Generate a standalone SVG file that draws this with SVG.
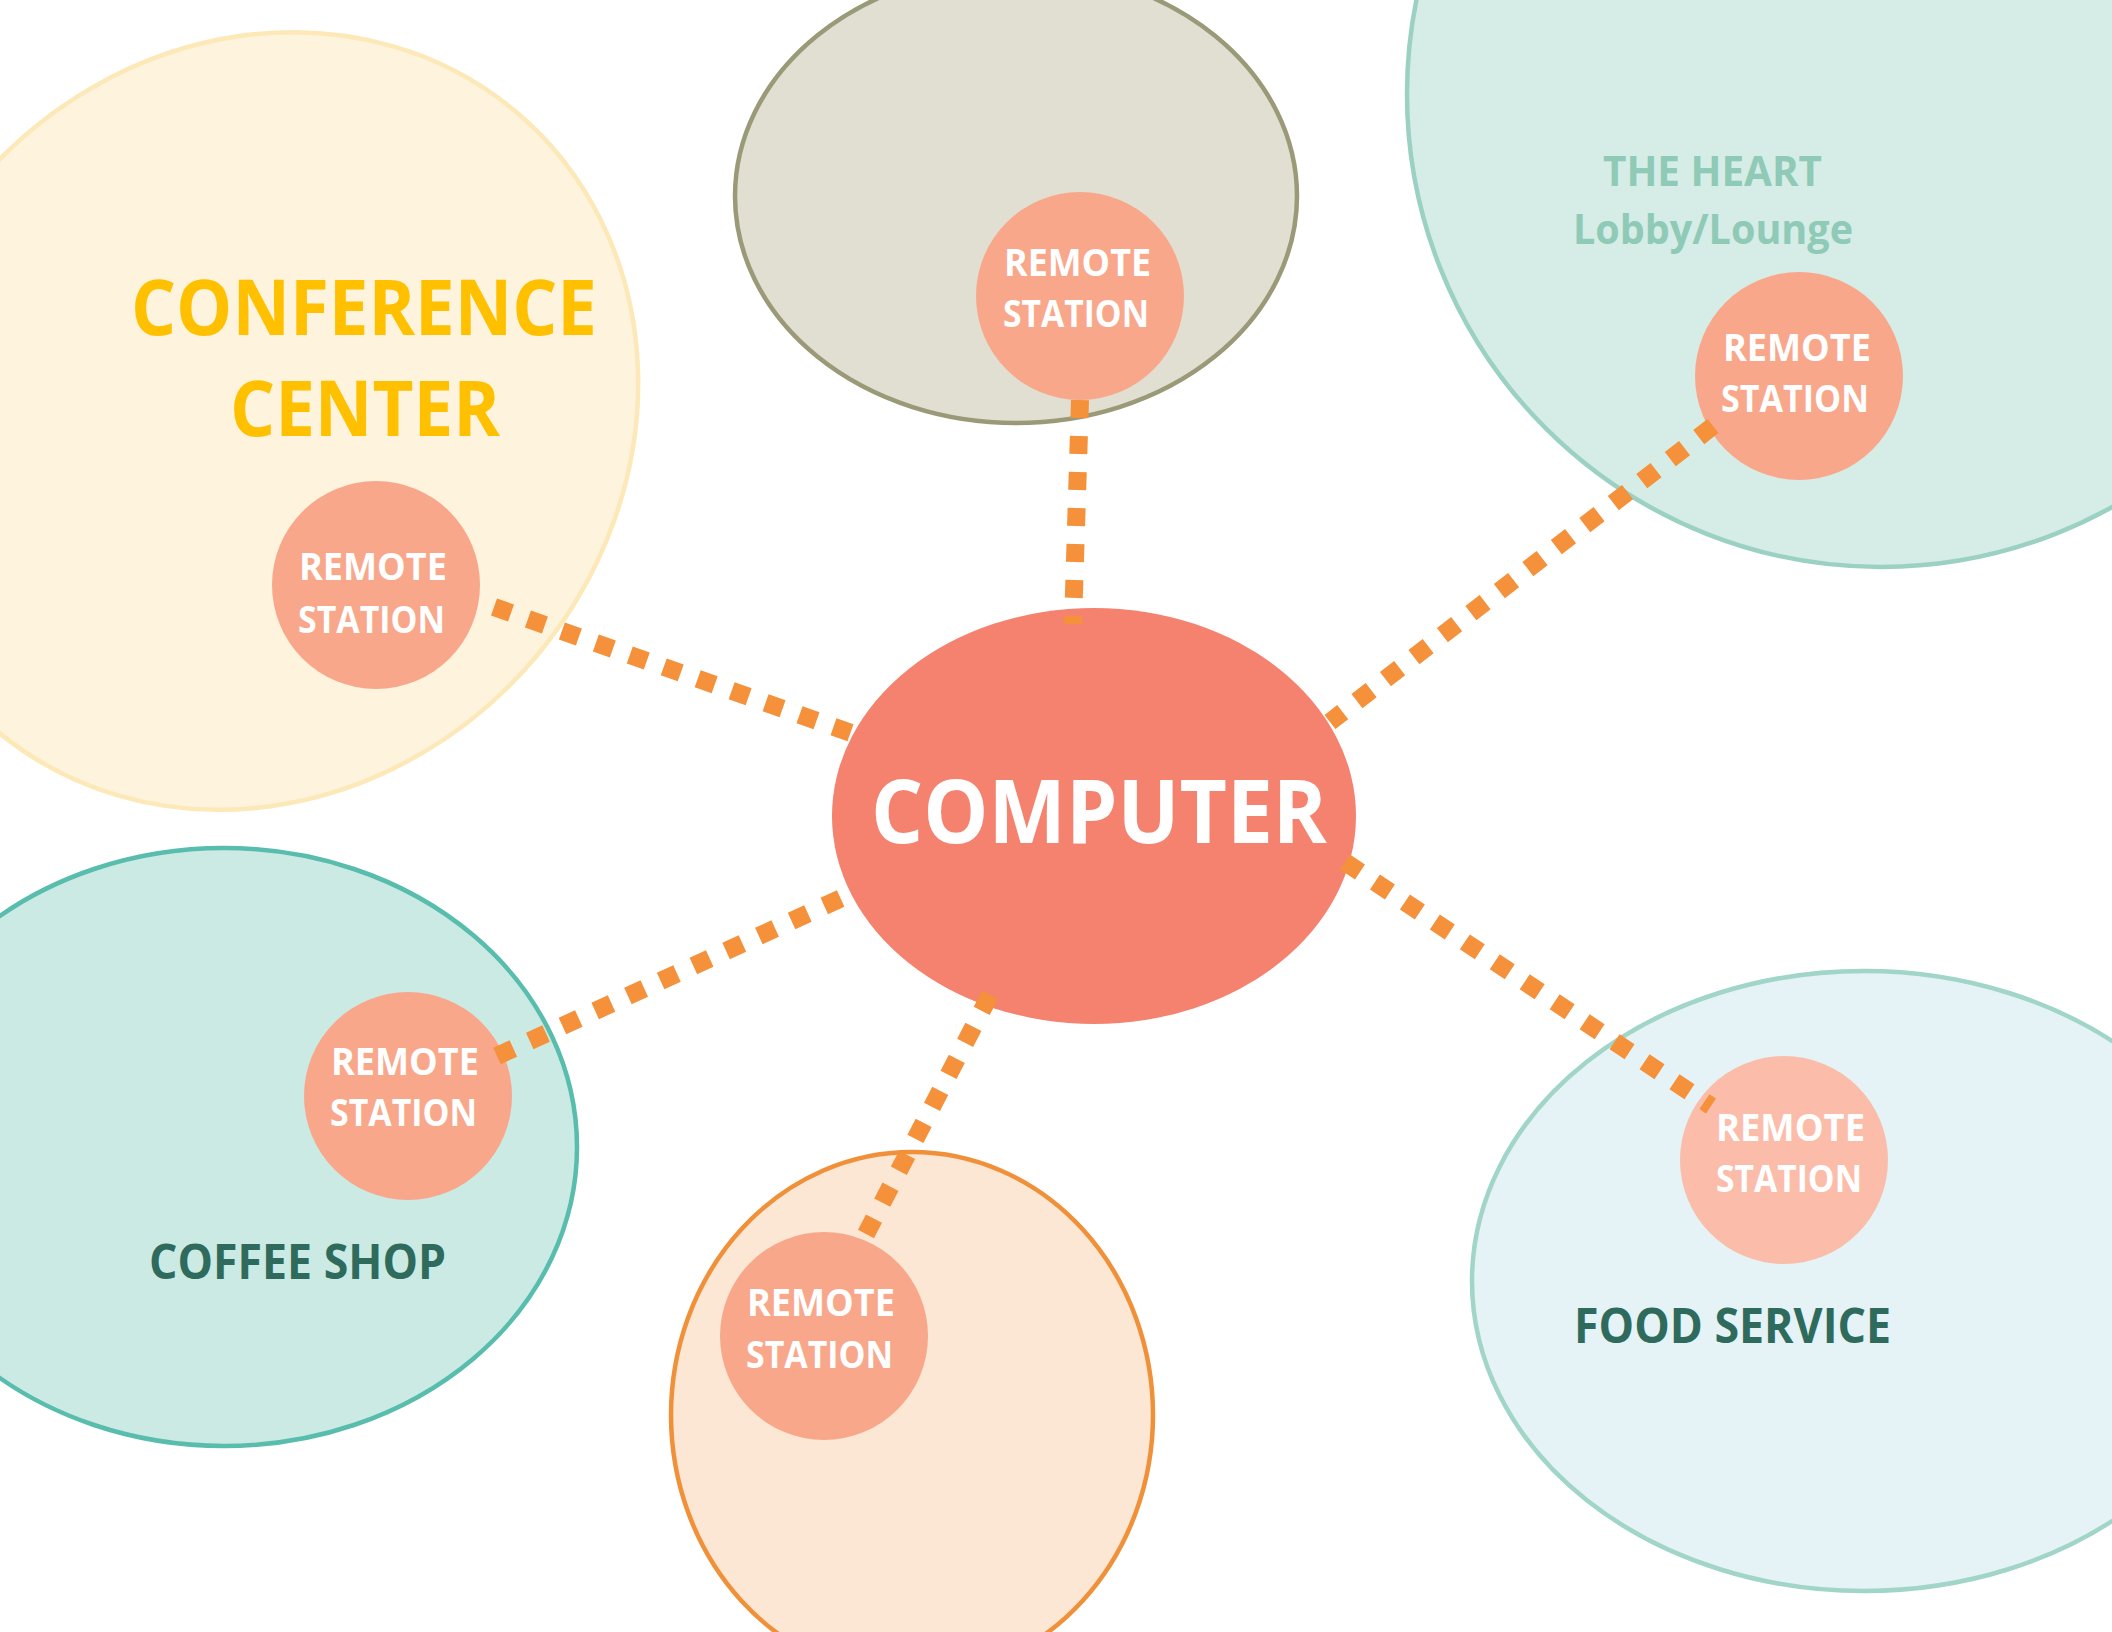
<svg xmlns="http://www.w3.org/2000/svg" width="2112" height="1632" viewBox="0 0 2112 1632">
<style>
.st{fill:#f9a78b}
.st2{fill:#fbbca9}
.stt{font-family:"Open Sans","Liberation Sans",sans-serif;font-weight:bold;font-size:38px;fill:#ffffff}
.lbl{font-family:"Open Sans","Liberation Sans",sans-serif;font-weight:bold}
.conn{stroke:#f4913a;stroke-width:18;stroke-dasharray:18 18;fill:none}
</style>
<rect width="2112" height="1632" fill="#ffffff"/>
<g id="conference-center">
<ellipse cx="256" cy="421" rx="404" ry="366" transform="rotate(-50 256 421)" fill="#fef3dc" stroke="#fde8b8" stroke-width="4.5"/>
<text class="lbl" x="131" y="335" font-size="77" fill="#ffc000" textLength="466" lengthAdjust="spacingAndGlyphs">CONFERENCE</text>
<text class="lbl" x="230" y="436" font-size="77" fill="#ffc000" textLength="270" lengthAdjust="spacingAndGlyphs">CENTER</text>
</g>
<g id="top-area">
<ellipse cx="1016" cy="196" rx="281" ry="227" fill="#e0dfd2" stroke="#9b9a78" stroke-width="4.5"/>
</g>
<g id="the-heart">
<ellipse cx="1881" cy="94" rx="474" ry="473" fill="#d6ece6" stroke="#9bd1c3" stroke-width="4.5"/>
<text class="lbl" x="1603" y="186" font-size="42" fill="#8ecab6" textLength="219" lengthAdjust="spacingAndGlyphs">THE HEART</text>
<text class="lbl" x="1573" y="244" font-size="42" fill="#8ecab6" textLength="280" lengthAdjust="spacingAndGlyphs">Lobby/Lounge</text>
</g>
<g id="coffee-shop">
<ellipse cx="224" cy="1147" rx="353" ry="299" fill="#cbeae4" stroke="#58bdac" stroke-width="4.5"/>
<text class="lbl" x="149" y="1279" font-size="49" fill="#2e6b5d" textLength="297" lengthAdjust="spacingAndGlyphs">COFFEE SHOP</text>
</g>
<g id="bottom-area">
<ellipse cx="912" cy="1415" rx="241" ry="263" fill="#fce6d4" stroke="#f0913a" stroke-width="4.5"/>
</g>
<g id="food-service">
<ellipse cx="1864" cy="1281" rx="392" ry="310" fill="#e5f2f6" stroke="#a0d5c8" stroke-width="4.5"/>
<text class="lbl" x="1574" y="1343" font-size="48" fill="#2e6b5d" textLength="317" lengthAdjust="spacingAndGlyphs">FOOD SERVICE</text>
</g>
<g id="station-conference">
<circle class="st" cx="376" cy="585" r="104"/>
<text class="stt" x="299" y="580" textLength="148" lengthAdjust="spacingAndGlyphs">REMOTE</text>
<text class="stt" x="298" y="633" textLength="147" lengthAdjust="spacingAndGlyphs">STATION</text>
</g>
<g id="station-top">
<circle class="st" cx="1080" cy="296" r="104"/>
<text class="stt" x="1004" y="276" textLength="147" lengthAdjust="spacingAndGlyphs">REMOTE</text>
<text class="stt" x="1003" y="327" textLength="146" lengthAdjust="spacingAndGlyphs">STATION</text>
</g>
<g id="station-heart">
<circle class="st" cx="1799" cy="376" r="104"/>
<text class="stt" x="1723" y="361" textLength="148" lengthAdjust="spacingAndGlyphs">REMOTE</text>
<text class="stt" x="1721" y="412" textLength="148" lengthAdjust="spacingAndGlyphs">STATION</text>
</g>
<g id="station-coffee">
<circle class="st" cx="408" cy="1096" r="104"/>
<text class="stt" x="331" y="1075" textLength="148" lengthAdjust="spacingAndGlyphs">REMOTE</text>
<text class="stt" x="330" y="1126" textLength="147" lengthAdjust="spacingAndGlyphs">STATION</text>
</g>
<g id="station-bottom">
<circle class="st" cx="824" cy="1336" r="104"/>
<text class="stt" x="747" y="1316" textLength="148" lengthAdjust="spacingAndGlyphs">REMOTE</text>
<text class="stt" x="746" y="1368" textLength="147" lengthAdjust="spacingAndGlyphs">STATION</text>
</g>
<g id="station-food">
<circle class="st2" cx="1784" cy="1160" r="104"/>
<text class="stt" x="1716" y="1141" textLength="149" lengthAdjust="spacingAndGlyphs">REMOTE</text>
<text class="stt" x="1716" y="1192" textLength="146" lengthAdjust="spacingAndGlyphs">STATION</text>
</g>
<g id="computer">
<ellipse cx="1094" cy="816" rx="262" ry="208" fill="#f5826f"/>
<text class="lbl" x="871" y="843" font-size="88" fill="#ffffff" textLength="456" lengthAdjust="spacingAndGlyphs">COMPUTER</text>
</g>
<g id="connectors">
<line class="conn" x1="1080" y1="400" x2="1073" y2="624"/>
<line class="conn" x1="494" y1="607" x2="854" y2="734"/>
<line class="conn" x1="1713" y1="426" x2="1330" y2="722"/>
<line class="conn" x1="1345" y1="862" x2="1711" y2="1106"/>
<line class="conn" x1="497" y1="1056" x2="844" y2="897"/>
<line class="conn" x1="990" y1="995" x2="866" y2="1234"/>
</g>
</svg>
